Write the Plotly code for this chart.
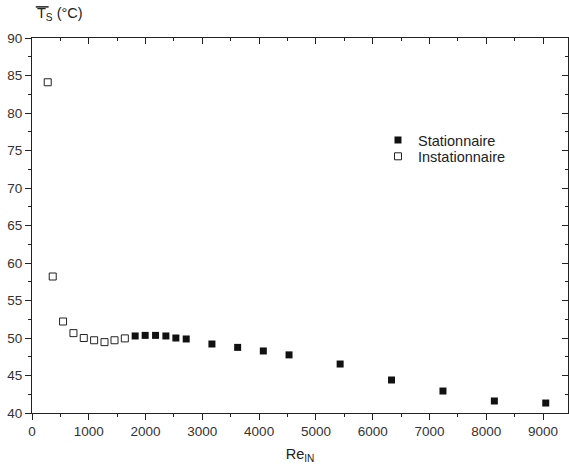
import plotly.graph_objects as go

# Data
re_instat = [277, 365, 547, 730, 912, 1094, 1277, 1453, 1635]
ts_instat = [84.1, 58.2, 52.2, 50.65, 50.0, 49.7, 49.45, 49.7, 49.95]

re_stat = [1817, 1993, 2176, 2358, 2534, 2716, 3169, 3622, 4074, 4527, 5427, 6332, 7238, 8143, 9048]
ts_stat = [50.27, 50.35, 50.35, 50.27, 50.0, 49.87, 49.2, 48.75, 48.27, 47.75, 46.53, 44.4, 42.93, 41.6, 41.33]

x_ticks = [0, 1000, 2000, 3000, 4000, 5000, 6000, 7000, 8000, 9000]
y_ticks = [40, 45, 50, 55, 60, 65, 70, 75, 80, 85, 90]

ink = "#222222"
fam = "Liberation Sans, Arial, sans-serif"
font = dict(family=fam, size=13.5, color="#333333")
legfont = dict(family=fam, size=14.5, color="#222222")

fig = go.Figure()
fig.add_trace(go.Scatter(
    x=re_stat, y=ts_stat, mode="markers", name="Stationnaire", legend="legend",
    marker=dict(symbol="square", size=7, color="#111111", line=dict(width=0)),
))
fig.add_trace(go.Scatter(
    x=re_instat, y=ts_instat, mode="markers", name="Instationnaire", legend="legend2",
    marker=dict(symbol="square-open", size=7, color="#222222", line=dict(width=1)),
))
# invisible trace to activate mirrored axes
fig.add_trace(go.Scatter(x=[], y=[], xaxis="x2", yaxis="y2", showlegend=False, hoverinfo="skip"))

xr = [0, 9440]
yr = [40, 90]
common = dict(showgrid=False, zeroline=False, showline=True, linecolor=ink, linewidth=1,
              automargin=False)

fig.update_layout(
    width=569, height=471,
    margin=dict(l=32, r=1, t=38, b=58, autoexpand=False),
    paper_bgcolor="white", plot_bgcolor="white",
    font=font,
    showlegend=True,
    legend=dict(x=0.6455, y=0.7705, xanchor="left", yanchor="top", bgcolor="rgba(0,0,0,0)",
                font=legfont, tracegroupgap=0),
    legend2=dict(x=0.6455, y=0.727, xanchor="left", yanchor="top", bgcolor="rgba(0,0,0,0)",
                 font=legfont, tracegroupgap=0),
    xaxis=dict(range=xr, tickvals=x_ticks, ticks="outside", ticklen=6, tickcolor=ink,
               minor=dict(dtick=500, ticks="outside", ticklen=3, tickcolor=ink),
               title=dict(text="Re<sub>IN</sub>", font=dict(family=fam, size=14.5, color="#222222"), standoff=10),
               **common),
    yaxis=dict(range=yr, tickvals=y_ticks, ticks="outside", ticklen=6, tickcolor=ink,
               minor=dict(dtick=2.5, ticks="outside", ticklen=3, tickcolor=ink),
               **common),
    xaxis2=dict(range=xr, overlaying="x", side="top", anchor="y2", tickvals=x_ticks,
                ticks="inside", ticklen=6, tickcolor=ink, showticklabels=False,
                minor=dict(dtick=500, ticks="inside", ticklen=3, tickcolor=ink),
                **common),
    yaxis2=dict(range=yr, overlaying="y", side="right", anchor="x2", tickvals=y_ticks,
                ticks="inside", ticklen=6, tickcolor=ink, showticklabels=False,
                minor=dict(dtick=2.5, ticks="inside", ticklen=3, tickcolor=ink),
                **common),
)

fig.add_annotation(
    text="T<sub>S</sub> (°C)", xref="paper", yref="paper", x=0.005, y=1.035,
    xanchor="left", yanchor="bottom", showarrow=False,
    font=dict(family=fam, size=14.5, color="#222222"),
)
fig.add_shape(type="line", xref="paper", yref="paper", x0=0.007, x1=0.031, y0=1.083, y1=1.083,
              line=dict(color="#222222", width=1.5))

fig.write_html("out.html", config={"displayModeBar": False},
               post_script="document.body.style.margin='0';")
